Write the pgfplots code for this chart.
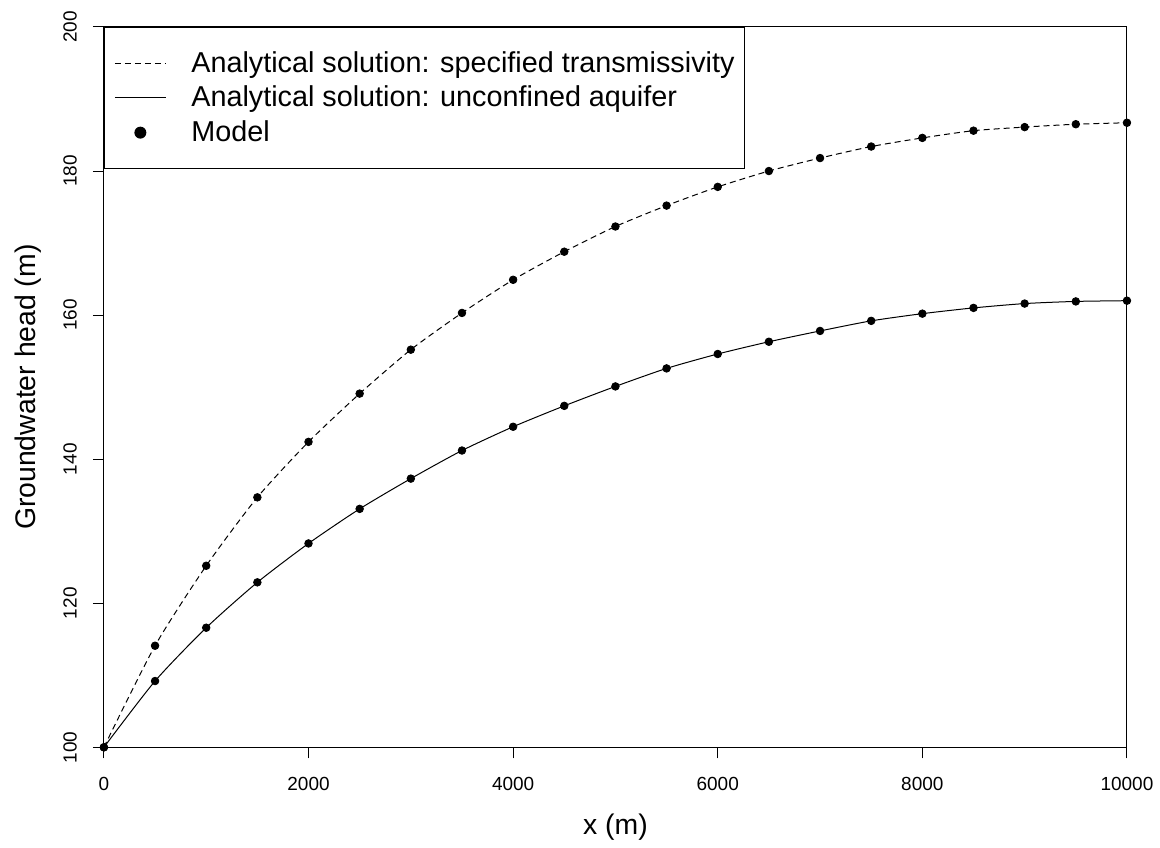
\documentclass[border=0pt]{standalone}
\usepackage{pgfplots}
\pgfplotsset{compat=1.18}
\usepackage{fontspec}
\setmainfont{Liberation Sans}

\pgfplotsset{
  lineleg/.style={legend image code/.code={\draw[##1] (0pt,0pt) -- (25.5pt,0pt);}},
  dotleg/.style={legend image code/.code={\path[draw=none] (0pt,0pt) -- (25.5pt,0pt);
      \fill[black, draw=none] (12.75pt,0pt) circle (3pt);}},
}

\begin{document}
\begin{tikzpicture}
\begin{axis}[
  scale only axis,
  width=512pt, height=360.5pt,
  xmin=0, xmax=10000, ymin=100, ymax=200,
  xtick={0,2000,...,10000}, ytick={100,120,...,200},
  scaled ticks=false,
  axis x line*=bottom, axis y line*=left,
  separate axis lines,
  every outer x axis line/.append style={-},
  every outer y axis line/.append style={-},
  tick align=outside, major tick length=5.5pt,
  tick style={black, line width=0.5pt},
  axis line style={line width=0.5pt},
  clip=false,
  /pgf/number format/assume math mode=true,
  /pgf/number format/1000 sep={},
  tick label style={font=\fontsize{9.5}{11}\selectfont},
  yticklabel style={rotate=90, anchor=south},
  xticklabel style={yshift=-6pt},
  yticklabel shift=4.5pt,
  xlabel={x (m)}, ylabel={Groundwater head (m)},
  label style={font=\fontsize{14.2}{16}\selectfont},
  xlabel style={at={(axis description cs:0.5,0)}, anchor=center, yshift=-40pt},
  ylabel style={at={([xshift=-38pt]axis description cs:0,0.5)}, anchor=center},
  legend cell align=left,
  legend style={at={(0,1)}, anchor=north west, draw=black, line width=0.5pt,
    font=\fontsize{14.4}{16}\selectfont, inner xsep=5pt, inner ysep=12pt,
    row sep=5.4pt, column sep=0pt, nodes={inner sep=0pt},
    cells={anchor=west},
    /tikz/every odd column/.append style={column sep=12.5pt}},
]
\addplot[black, dash pattern=on 3pt off 2pt, line width=0.5pt, smooth, tension=0.4, lineleg] coordinates {
(0,100) (500,114.1) (1000,125.2) (1500,134.7) (2000,142.4) (2500,149.1)
(3000,155.2) (3500,160.3) (4000,164.9) (4500,168.8) (5000,172.3)
(5500,175.2) (6000,177.8) (6500,180.0) (7000,181.8) (7500,183.4)
(8000,184.6) (8500,185.6) (9000,186.1) (9500,186.5) (10000,186.7)};
\addlegendentry{Analytical solution: specified transmissivity}
\addplot[black, solid, line width=0.5pt, smooth, tension=0.4, lineleg] coordinates {
(0,100) (500,109.2) (1000,116.6) (1500,122.9) (2000,128.3) (2500,133.1)
(3000,137.3) (3500,141.2) (4000,144.5) (4500,147.4) (5000,150.1)
(5500,152.6) (6000,154.6) (6500,156.3) (7000,157.8) (7500,159.2)
(8000,160.2) (8500,161.0) (9000,161.6) (9500,161.9) (10000,162.0)};
\addlegendentry{Analytical solution: unconfined aquifer}
\addplot[black, only marks, mark=*, mark size=1.9pt, dotleg] coordinates {
(0,100) (500,114.1) (1000,125.2) (1500,134.7) (2000,142.4) (2500,149.1)
(3000,155.2) (3500,160.3) (4000,164.9) (4500,168.8) (5000,172.3)
(5500,175.2) (6000,177.8) (6500,180.0) (7000,181.8) (7500,183.4)
(8000,184.6) (8500,185.6) (9000,186.1) (9500,186.5) (10000,186.7)};
\addlegendentry{Model}
\addplot[black, only marks, mark=*, mark size=1.9pt, forget plot] coordinates {
(0,100) (500,109.2) (1000,116.6) (1500,122.9) (2000,128.3) (2500,133.1)
(3000,137.3) (3500,141.2) (4000,144.5) (4500,147.4) (5000,150.1)
(5500,152.6) (6000,154.6) (6500,156.3) (7000,157.8) (7500,159.2)
(8000,160.2) (8500,161.0) (9000,161.6) (9500,161.9) (10000,162.0)};
\draw[line width=0.5pt] (rel axis cs:0,1) -- (rel axis cs:1,1) -- (rel axis cs:1,0);
% page margins as in the reference
\path (rel axis cs:0,0) ++(-52pt,-47.5pt);
\path (rel axis cs:1,1) ++(16pt,13.5pt);
\end{axis}
\end{tikzpicture}
\end{document}
